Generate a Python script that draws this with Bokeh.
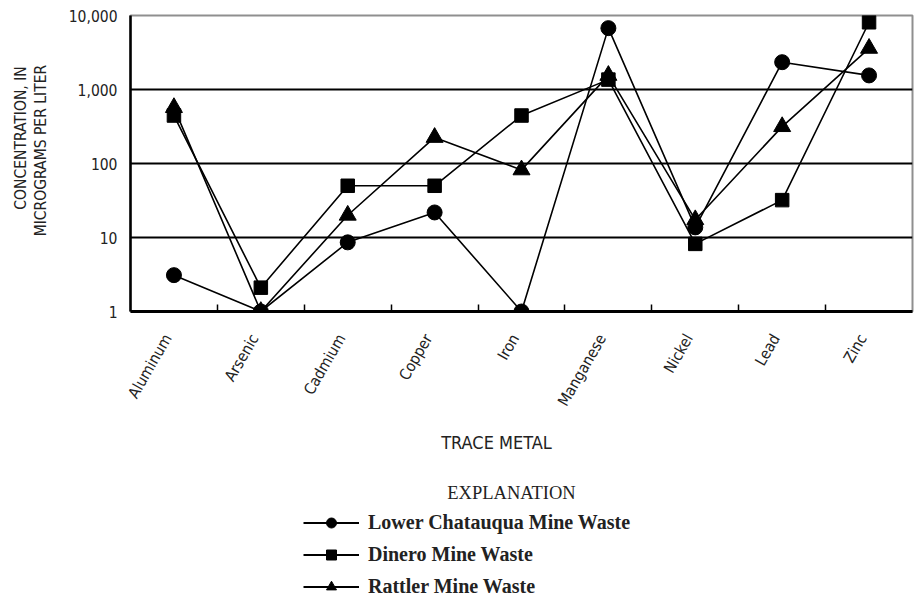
import math
from bokeh.plotting import figure
from bokeh.layouts import column, row
from bokeh.models import Range1d, FixedTicker, Legend, LegendItem, Label
from bokeh.embed import file_html
from bokeh.resources import INLINE

# ---- data ----
metals = ["Aluminum", "Arsenic", "Cadmium", "Copper", "Iron",
          "Manganese", "Nickel", "Lead", "Zinc"]
lower_chatauqua = [3.1, 1, 8.6, 21.8, 1, 6750, 13.7, 2340, 1550]
dinero = [445, 2.1, 50, 50, 445, 1360, 8.2, 32, 8100]
rattler = [570, 1, 20, 225, 82, 1550, 17.4, 315, 3600]
series_names = ["Lower Chatauqua Mine Waste", "Dinero Mine Waste", "Rattler Mine Waste"]
series_markers = ["circle", "square", "triangle"]
y_ticks = [1, 10, 100, 1000, 10000]
y_tick_labels = ["1", "10", "100", "1,000", "10,000"]
grid_values = [10, 100, 1000]

SANS = "Liberation Sans Narrow, DejaVu Sans Condensed, sans-serif"
SERIF = "Liberation Serif, DejaVu Serif, serif"
INK = "#222222"

n = len(metals)
xs = [i + 0.5 for i in range(n)]
label_pos = [x - 0.07 for x in xs]   # tick-label anchors, nudged slightly left


def blank(w, h):
    f = figure(width=w, height=h, x_range=Range1d(0, w), y_range=Range1d(0, h),
               output_backend="svg", toolbar_location=None,
               x_axis_location=None, y_axis_location=None,
               min_border_left=0, min_border_right=0,
               min_border_top=0, min_border_bottom=0)
    f.grid.visible = False
    f.outline_line_color = None
    f.background_fill_color = "white"
    f.border_fill_color = "white"
    return f


TOP_H = 420
LEFT_W = 58

# ---- main chart ----
p = figure(width=914 - LEFT_W, height=TOP_H,
           x_range=Range1d(0, n), y_range=Range1d(1, 10000),
           y_axis_type="log", output_backend="svg", toolbar_location=None,
           min_border_left=130 - LEFT_W, min_border_right=2, min_border_top=15,
           min_border_bottom=TOP_H - 15 - 296)
p.background_fill_color = "white"
p.border_fill_color = "white"
p.outline_line_color = "#8f8f8f"
p.outline_line_width = 2

p.xaxis.ticker = FixedTicker(ticks=label_pos, minor_ticks=list(range(1, n)))
p.xaxis.major_label_overrides = {x: m for x, m in zip(label_pos, metals)}
p.xaxis.major_label_orientation = math.pi / 3
p.xaxis.major_tick_line_color = None
p.xaxis.minor_tick_in = 7
p.xaxis.minor_tick_out = 0
p.xaxis.minor_tick_line_color = "black"
p.xaxis.minor_tick_line_width = 1.5
p.xaxis.axis_line_color = "black"
p.xaxis.axis_line_width = 3
p.xaxis.major_label_text_font = SANS
p.xaxis.major_label_text_font_size = "15.5px"
p.xaxis.major_label_text_color = INK
p.xaxis.major_label_standoff = 18

p.yaxis.ticker = FixedTicker(ticks=y_ticks, minor_ticks=[])
p.yaxis.major_label_overrides = {t: s for t, s in zip(y_ticks, y_tick_labels)}
p.yaxis.major_tick_line_color = None
p.yaxis.minor_tick_line_color = None
p.yaxis.axis_line_color = "black"
p.yaxis.axis_line_width = 2.5
p.yaxis.major_label_text_font = SANS
p.yaxis.major_label_text_font_size = "15.5px"
p.yaxis.major_label_text_color = INK
p.yaxis.major_label_standoff = 7

p.xgrid.visible = False
p.ygrid.ticker = FixedTicker(ticks=grid_values, minor_ticks=[])
p.ygrid.grid_line_color = "black"
p.ygrid.grid_line_width = 2

series = [lower_chatauqua, dinero, rattler]
marker_sizes = [15, 13.5, 17]
for vals in series:
    p.line(xs, vals, line_color="black", line_width=1.6)
for vals, marker, size in zip(series, series_markers, marker_sizes):
    p.scatter(xs, vals, marker=marker, size=size, fill_color="black", line_color="black")

# ---- left strip: y-axis title ----
fl = blank(LEFT_W, TOP_H)
fl.add_layout(Label(x=20, y=TOP_H - 72, text="CONCENTRATION, IN", angle=math.pi / 2,
                    text_align="right", text_baseline="middle",
                    text_font=SANS, text_font_size="15.5px", text_color=INK))
fl.add_layout(Label(x=40, y=TOP_H - 70, text="MICROGRAMS PER LITER", angle=math.pi / 2,
                    text_align="right", text_baseline="middle",
                    text_font=SANS, text_font_size="15.5px", text_color=INK))

# ---- bottom strip: x title and explanation ----
BOT_H = 599 - TOP_H
fb = blank(914, BOT_H)
fb.add_layout(Label(x=496, y=599 - 442, text="TRACE METAL",
                    text_align="center", text_baseline="middle",
                    text_font=SANS, text_font_size="18px", text_color=INK))
fb.add_layout(Label(x=511, y=599 - 492.5, text="EXPLANATION",
                    text_align="center", text_baseline="middle",
                    text_font=SERIF, text_font_size="18.5px", text_color=INK))

# legend proxies (one NaN point each, so nothing is drawn in the strip itself)
nan = float("nan")
items = []
for name, marker in zip(series_names, series_markers):
    r1 = fb.line([nan], [nan], line_color="black", line_width=2)
    r2 = fb.scatter([nan], [nan], marker=marker, fill_color="black", line_color="black")
    items.append(LegendItem(label=name, renderers=[r1, r2]))
legend = Legend(items=items, location=(303, 0),
                glyph_width=56, glyph_height=25, label_height=25,
                label_standoff=9, spacing=7, padding=0, margin=0,
                border_line_color=None, background_fill_alpha=0,
                label_text_font=SERIF, label_text_font_style="bold",
                label_text_font_size="20px", label_text_color=INK)
fb.add_layout(legend)

layout = column(row(fl, p), fb)
open("out.html", "w").write(file_html(layout, INLINE))
